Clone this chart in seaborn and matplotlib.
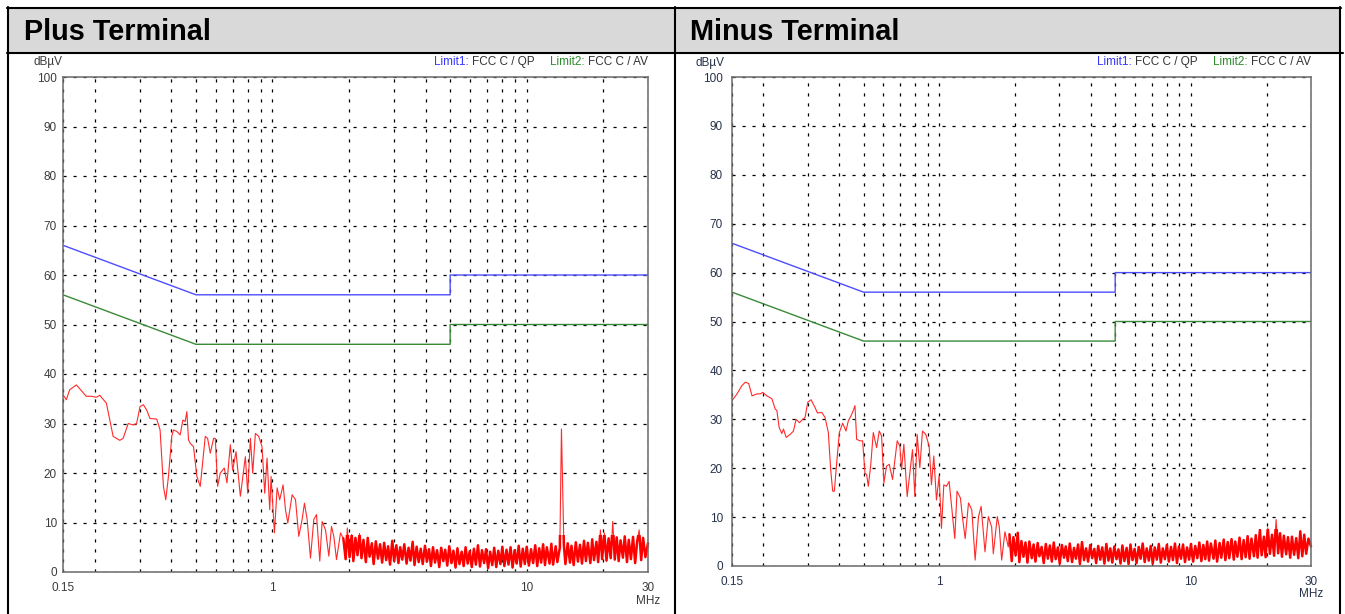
import matplotlib
matplotlib.use("Agg")
import matplotlib.pyplot as plt
from matplotlib.ticker import NullFormatter
from matplotlib.patches import Rectangle
from matplotlib.lines import Line2D
import pandas as pd
import seaborn as sns

# ---------------- data ----------------
titles = ["Plus Terminal", "Minus Terminal"]
x_major = [0.15, 1, 10, 30]
x_major_labels = ["0.15", "1", "10", "30"]
x_minor = [0.2, 0.3, 0.4, 0.5, 0.6, 0.7, 0.8, 0.9, 2, 3, 4, 5, 6, 7, 8, 9, 20]
y_ticks = [0, 10, 20, 30, 40, 50, 60, 70, 80, 90, 100]

limit_freq = [0.15, 0.5, 5.0, 5.0, 30.0]
limit_qp = [66, 56, 56, 60, 60]
limit_av = [56, 46, 46, 50, 50]

plus_low_freq = [
    0.150, 0.1546, 0.1593, 0.1693, 0.1852, 0.1938, 0.2030, 0.2093, 0.2222, 0.2291,
    0.2362, 0.2509, 0.2586, 0.2707, 0.2835, 0.2922, 0.3012, 0.3105, 0.3201, 0.3299,
    0.3505, 0.3614, 0.3725, 0.3805, 0.3898, 0.4017, 0.4079, 0.4205, 0.4335, 0.4441,
    0.4536, 0.4605, 0.4675, 0.4746, 0.4892, 0.5043, 0.5199, 0.5278, 0.5441, 0.5557,
    0.5693, 0.5868, 0.5958, 0.6085, 0.6234, 0.6465, 0.6623, 0.6826, 0.6972, 0.7188,
    0.7477, 0.7823, 0.7990, 0.8186, 0.8362, 0.8566, 0.8829, 0.9100, 0.9323, 0.9522,
    0.9755, 0.9874, 1.018, 1.043, 1.068, 1.101, 1.125, 1.149, 1.195, 1.232,
    1.269, 1.308, 1.336, 1.369, 1.411, 1.454, 1.490, 1.535, 1.568, 1.617,
    1.666, 1.707, 1.743, 1.786, 1.852,
]
plus_low_level = [
    35.8, 34.8, 36.8, 37.8, 35.5, 35.5, 35.3, 35.7, 34.1, 30.7,
    27.4, 26.6, 27.0, 30.0, 29.7, 30.0, 33.4, 33.8, 32.7, 31.0,
    30.9, 28.7, 17.3, 14.6, 19.3, 27.4, 28.7, 28.4, 27.7, 30.7,
    30.4, 32.4, 26.7, 26.0, 25.3, 19.3, 17.3, 20.6, 27.4, 27.0,
    24.0, 27.0, 27.0, 17.3, 20.0, 21.0, 18.0, 25.7, 20.6, 24.3,
    15.3, 23.3, 15.9, 27.0, 20.0, 28.0, 27.4, 25.3, 15.9, 23.0,
    12.6, 19.3, 7.9, 17.0, 14.6, 17.6, 12.6, 9.9, 15.6, 14.6,
    7.2, 10.6, 13.9, 10.6, 2.8, 10.6, 11.6, 2.2, 10.2, 8.5,
    3.2, 9.2, 7.2, 2.5, 7.9,
]

minus_low_freq = [
    0.150, 0.1570, 0.1643, 0.1695, 0.1748, 0.1802, 0.1887, 0.1941, 0.1989, 0.2064,
    0.2161, 0.2227, 0.2261, 0.2310, 0.2367, 0.2403, 0.2462, 0.2553, 0.2632, 0.2697,
    0.2780, 0.2866, 0.2928, 0.3000, 0.3093, 0.3208, 0.3277, 0.3409, 0.3514, 0.3622,
    0.3701, 0.3769, 0.3827, 0.3910, 0.4006, 0.4130, 0.4257, 0.4349, 0.4456, 0.4552,
    0.4622, 0.4693, 0.4838, 0.4957, 0.5064, 0.5142, 0.5221, 0.5333, 0.5465, 0.5633,
    0.5772, 0.5896, 0.6022, 0.6170, 0.6323, 0.6518, 0.6802, 0.6970, 0.7077, 0.7229,
    0.7452, 0.7636, 0.7824, 0.7993, 0.8164, 0.8366, 0.8572, 0.8837, 0.9111, 0.9306,
    0.9506, 0.9741, 0.9982, 1.020, 1.042, 1.067, 1.094, 1.117, 1.152, 1.176,
    1.213, 1.235, 1.267, 1.306, 1.346, 1.388, 1.431, 1.466, 1.519, 1.566,
    1.614, 1.639, 1.700, 1.731, 1.769, 1.823, 1.879,
]
minus_low_level = [
    33.8, 35.2, 36.9, 37.6, 37.3, 34.8, 35.2, 35.2, 35.5, 34.8,
    34.2, 32.1, 31.8, 28.3, 27.1, 28.0, 26.3, 26.9, 27.6, 30.0,
    29.3, 30.0, 30.4, 33.5, 34.0, 32.4, 31.3, 31.4, 30.4, 27.3,
    19.7, 15.3, 15.3, 21.1, 27.3, 29.2, 27.6, 29.7, 30.7, 31.8,
    32.8, 25.9, 25.6, 25.6, 19.0, 18.7, 16.3, 20.4, 27.3, 24.2,
    27.6, 26.6, 17.0, 20.4, 20.8, 17.7, 25.6, 24.5, 19.7, 24.9,
    14.2, 19.0, 23.8, 14.2, 26.9, 20.1, 27.6, 26.9, 24.5, 16.6,
    22.5, 13.5, 18.4, 7.7, 16.6, 16.3, 17.3, 12.5, 5.6, 15.3,
    13.9, 10.1, 5.6, 12.9, 11.5, 1.2, 10.1, 12.2, 2.9, 10.1,
    8.0, 2.5, 10.1, 8.0, 1.2, 7.0, 3.9,
]

# shared sweep points of the dense high-frequency part (MHz)
band_freq = [
    1.90, 1.94, 1.97, 2.01, 2.05, 2.08, 2.12, 2.16, 2.20, 2.24,
    2.28, 2.33, 2.37, 2.41, 2.46, 2.50, 2.55, 2.60, 2.65, 2.70,
    2.75, 2.80, 2.85, 2.90, 2.96, 3.01, 3.07, 3.13, 3.18, 3.24,
    3.30, 3.37, 3.43, 3.49, 3.56, 3.62, 3.69, 3.76, 3.83, 3.90,
    3.98, 4.05, 4.13, 4.20, 4.28, 4.36, 4.44, 4.53, 4.61, 4.70,
    4.78, 4.87, 4.96, 5.06, 5.15, 5.25, 5.34, 5.44, 5.55, 5.65,
    5.75, 5.86, 5.97, 6.08, 6.20, 6.31, 6.43, 6.55, 6.67, 6.80,
    6.92, 7.05, 7.18, 7.32, 7.45, 7.59, 7.73, 7.88, 8.02, 8.17,
    8.33, 8.48, 8.64, 8.80, 8.96, 9.13, 9.30, 9.47, 9.65, 9.83,
    10.0, 10.2, 10.4, 10.6, 10.8, 11.0, 11.2, 11.4, 11.6, 11.8,
    12.0, 12.3, 12.5, 12.7, 13.0, 13.2, 13.5, 13.7, 14.0, 14.2,
    14.5, 14.8, 15.0, 15.3, 15.6, 15.9, 16.2, 16.5, 16.8, 17.1,
    17.4, 17.8, 18.1, 18.4, 18.8, 19.1, 19.5, 19.8, 20.2, 20.6,
    21.0, 21.4, 21.8, 22.2, 22.6, 23.0, 23.4, 23.9, 24.3, 24.8,
    25.2, 25.7, 26.2, 26.7, 27.2, 27.7, 28.2, 28.7, 29.3, 30.0,
]
plus_band_level = [
    6.8, 2.6, 8.9, 3.0, 7.6, 2.2, 6.9, 3.4, 7.8, 2.8,
    6.5, 2.0, 6.9, 3.1, 5.8, 1.6, 6.2, 2.7, 5.6, 1.9,
    5.9, 2.4, 5.2, 1.5, 6.3, 2.2, 5.4, 1.8, 5.0, 2.5,
    5.6, 1.7, 4.9, 2.3, 6.1, 1.4, 5.1, 2.0, 4.7, 1.6,
    5.3, 2.1, 4.6, 1.2, 5.0, 1.9, 4.4, 1.0, 4.9, 2.2,
    4.5, 1.3, 5.2, 1.8, 4.3, 0.9, 4.8, 1.6, 4.1, 1.2,
    5.0, 1.7, 4.2, 1.0, 4.7, 1.5, 5.4, 1.1, 4.4, 1.8,
    4.6, 0.8, 4.1, 1.4, 4.9, 1.0, 4.3, 1.6, 5.1, 1.2,
    4.5, 1.5, 5.0, 0.9, 4.4, 1.7, 5.3, 1.1, 4.7, 1.6,
    5.1, 1.3, 4.6, 1.8, 5.4, 1.2, 4.8, 1.9, 5.6, 1.4,
    5.0, 1.7, 5.7, 1.5, 5.2, 2.0, 4.9, 28.9, 5.5, 1.6,
    5.8, 1.9, 5.3, 1.4, 6.0, 2.1, 5.5, 1.7, 6.3, 2.2,
    5.9, 1.8, 6.6, 2.4, 6.1, 2.0, 8.5, 2.6, 7.9, 2.3,
    6.8, 2.8, 10.2, 2.5, 7.0, 2.2, 6.4, 2.9, 7.2, 2.0,
    6.5, 2.6, 7.1, 1.8, 6.2, 8.5, 2.4, 6.9, 3.0, 5.8,
]
minus_band_level = [
    6.5, 1.0, 5.9, 2.2, 6.8, 0.8, 5.1, 1.9, 4.8, 0.7,
    5.0, 1.6, 4.4, 0.9, 4.7, 2.0, 3.9, 0.6, 4.5, 1.5,
    4.2, 0.9, 4.8, 1.4, 3.8, 0.5, 4.3, 1.7, 4.0, 1.0,
    4.6, 0.8, 3.7, 1.5, 4.4, 0.4, 4.9, 1.2, 3.6, 0.9,
    4.3, 1.6, 3.5, 0.6, 4.1, 1.3, 3.8, 0.5, 4.5, 1.1,
    3.6, 0.7, 4.0, 1.4, 3.4, 0.5, 4.2, 1.0, 3.7, 0.4,
    4.4, 1.2, 3.5, 0.6, 3.9, 1.5, 4.6, 0.8, 3.6, 1.1,
    4.1, 0.5, 3.8, 1.3, 4.5, 0.7, 3.6, 1.4, 4.3, 0.9,
    3.9, 1.2, 4.6, 0.6, 4.0, 1.5, 4.4, 0.8, 3.8, 1.3,
    4.5, 0.9, 4.1, 1.6, 4.8, 1.0, 4.3, 1.4, 5.0, 1.1,
    4.6, 1.5, 5.2, 0.9, 4.7, 1.7, 5.4, 1.2, 4.9, 1.6,
    5.5, 1.3, 5.0, 1.9, 5.8, 1.4, 5.3, 1.8, 6.1, 1.5,
    5.6, 2.0, 6.3, 1.7, 7.4, 2.2, 6.0, 1.8, 7.8, 2.5,
    6.4, 2.1, 9.5, 2.6, 6.7, 1.9, 6.2, 2.4, 5.9, 1.7,
    6.0, 2.3, 5.7, 1.6, 7.1, 2.0, 6.4, 2.5, 5.6, 4.0,
]

# ---------------- style ----------------
sns.set_theme(style="white")
plt.rcParams["font.family"] = ["Liberation Sans", "DejaVu Sans"]

W, H = 1345, 614
fig = plt.figure(figsize=(W / 100, H / 100), dpi=100)
fig.patch.set_facecolor("white")


def fx(x):
    return x / W


def fy(y):
    return 1 - y / H


# header cells and table borders
fig.add_artist(Rectangle((fx(8), fy(53)), fx(675 - 8), 45 / H, transform=fig.transFigure,
                         facecolor="#d9d9d9", edgecolor="none", zorder=0))
fig.add_artist(Rectangle((fx(676), fy(53)), fx(1340 - 676), 45 / H, transform=fig.transFigure,
                         facecolor="#d9d9d9", edgecolor="none", zorder=0))
border_lw = 1.5
for (x0, y0, x1, y1) in [(7, 7.5, 1341, 7.5), (7, 53, 1343, 53),
                         (7.5, 7, 7.5, 614), (675, 7, 675, 614), (1340, 7, 1340, 614)]:
    fig.add_artist(Line2D([fx(x0), fx(x1)], [fy(y0), fy(y1)], transform=fig.transFigure,
                          color="black", lw=border_lw, zorder=3))

fig.text(fx(24), fy(40.5), titles[0], fontsize=20.8, fontweight="bold", va="baseline",
         ha="left", color="black")
fig.text(fx(690), fy(40.5), titles[1], fontsize=20.8, fontweight="bold", va="baseline",
         ha="left", color="black")

ax_plus = fig.add_axes([fx(63), fy(572), fx(648 - 63), (572 - 77) / H])
ax_minus = fig.add_axes([fx(732), fy(566), fx(1311 - 732), (566 - 77) / H])

grid_style = dict(color="black", lw=0.9, linestyle=(0, (2.5, 5.5)))


def draw_panel(ax, low_f, low_l, band_l, txt_color, ypad, unit_off, mhz_off):
    ax.set_xscale("log")
    lim = pd.DataFrame({"f": limit_freq, "qp": limit_qp, "av": limit_av})
    trace = pd.DataFrame({"f": low_f + band_freq, "level": low_l + band_l})
    band = pd.DataFrame({"f": band_freq, "level": band_l})
    sns.lineplot(data=lim, x="f", y="qp", ax=ax, color="#4d4dff", lw=1.0,
                 estimator=None, sort=False)
    sns.lineplot(data=lim, x="f", y="av", ax=ax, color="#3a8a3a", lw=1.0,
                 estimator=None, sort=False)
    sns.lineplot(data=trace, x="f", y="level", ax=ax, color="#ff2a2a", lw=0.8,
                 estimator=None, sort=False)
    # the dense sweep above ~2 MHz renders as a solid band (spikes stay thin)
    sns.lineplot(data=band, x="f", y="level", ax=ax, color="#ff0000", lw=1.8,
                 estimator=None, sort=False)
    clip = Rectangle((0.1, -5), 100, 12.5, transform=ax.transData)
    ax.lines[-1].set_clip_path(clip)
    ax.set_xlim(0.15, 30)
    ax.set_ylim(0, 100)
    ax.set_xticks(x_major)
    ax.set_xticklabels(x_major_labels)
    ax.set_xticks(x_minor, minor=True)
    ax.xaxis.set_minor_formatter(NullFormatter())
    ax.set_yticks(y_ticks)
    ax.set_xlabel("")
    ax.set_ylabel("")
    ax.tick_params(which="both", length=0)
    ax.tick_params(axis="x", pad=7.5, labelsize=8.5, labelcolor=txt_color)
    ax.tick_params(axis="y", pad=ypad, labelsize=8.5, labelcolor=txt_color)
    ax.grid(True, which="both", axis="x", **grid_style)
    ax.grid(True, which="major", axis="y", **grid_style)
    ax.set_axisbelow(True)
    for s in ax.spines.values():
        s.set_visible(True)
        s.set_color("#6a6a6a")
        s.set_linewidth(1.1)
    ax.set_facecolor("white")

    ax.annotate("dB\u00b5V", xy=(0, 1), xycoords="axes fraction", xytext=unit_off,
                textcoords="offset points", ha="center", va="center", fontsize=8.5,
                color=txt_color)
    ax.annotate("MHz", xy=(1, 0), xycoords="axes fraction", xytext=(0, mhz_off),
                textcoords="offset points", ha="center", va="center", fontsize=8.5,
                color=txt_color)

    t1 = ax.annotate("FCC C / AV", xy=(1, 1), xycoords="axes fraction", xytext=(0, 10.5),
                     textcoords="offset points", ha="right", va="center", fontsize=8.5,
                     color="#333333")
    t2 = ax.annotate("Limit2:", xy=(0, 0), xycoords=t1, xytext=(-2.5, 0),
                     textcoords="offset points", ha="right", va="bottom", fontsize=8.5,
                     color="#2e8b2e")
    t3 = ax.annotate("FCC C / QP", xy=(0, 0), xycoords=t2, xytext=(-11, 0),
                     textcoords="offset points", ha="right", va="bottom", fontsize=8.5,
                     color="#333333")
    ax.annotate("Limit1:", xy=(0, 0), xycoords=t3, xytext=(-2.5, 0),
                textcoords="offset points", ha="right", va="bottom", fontsize=8.5,
                color="#3535ff")


draw_panel(ax_plus, plus_low_freq, plus_low_level, plus_band_level,
           "#3c3c3c", 4.3, (-11, 10.8), -21)
draw_panel(ax_minus, minus_low_freq, minus_low_level, minus_band_level,
           "#26324a", 6.5, (-16, 10.3), -20)

fig.savefig("out.png", dpi=100, facecolor="white")
